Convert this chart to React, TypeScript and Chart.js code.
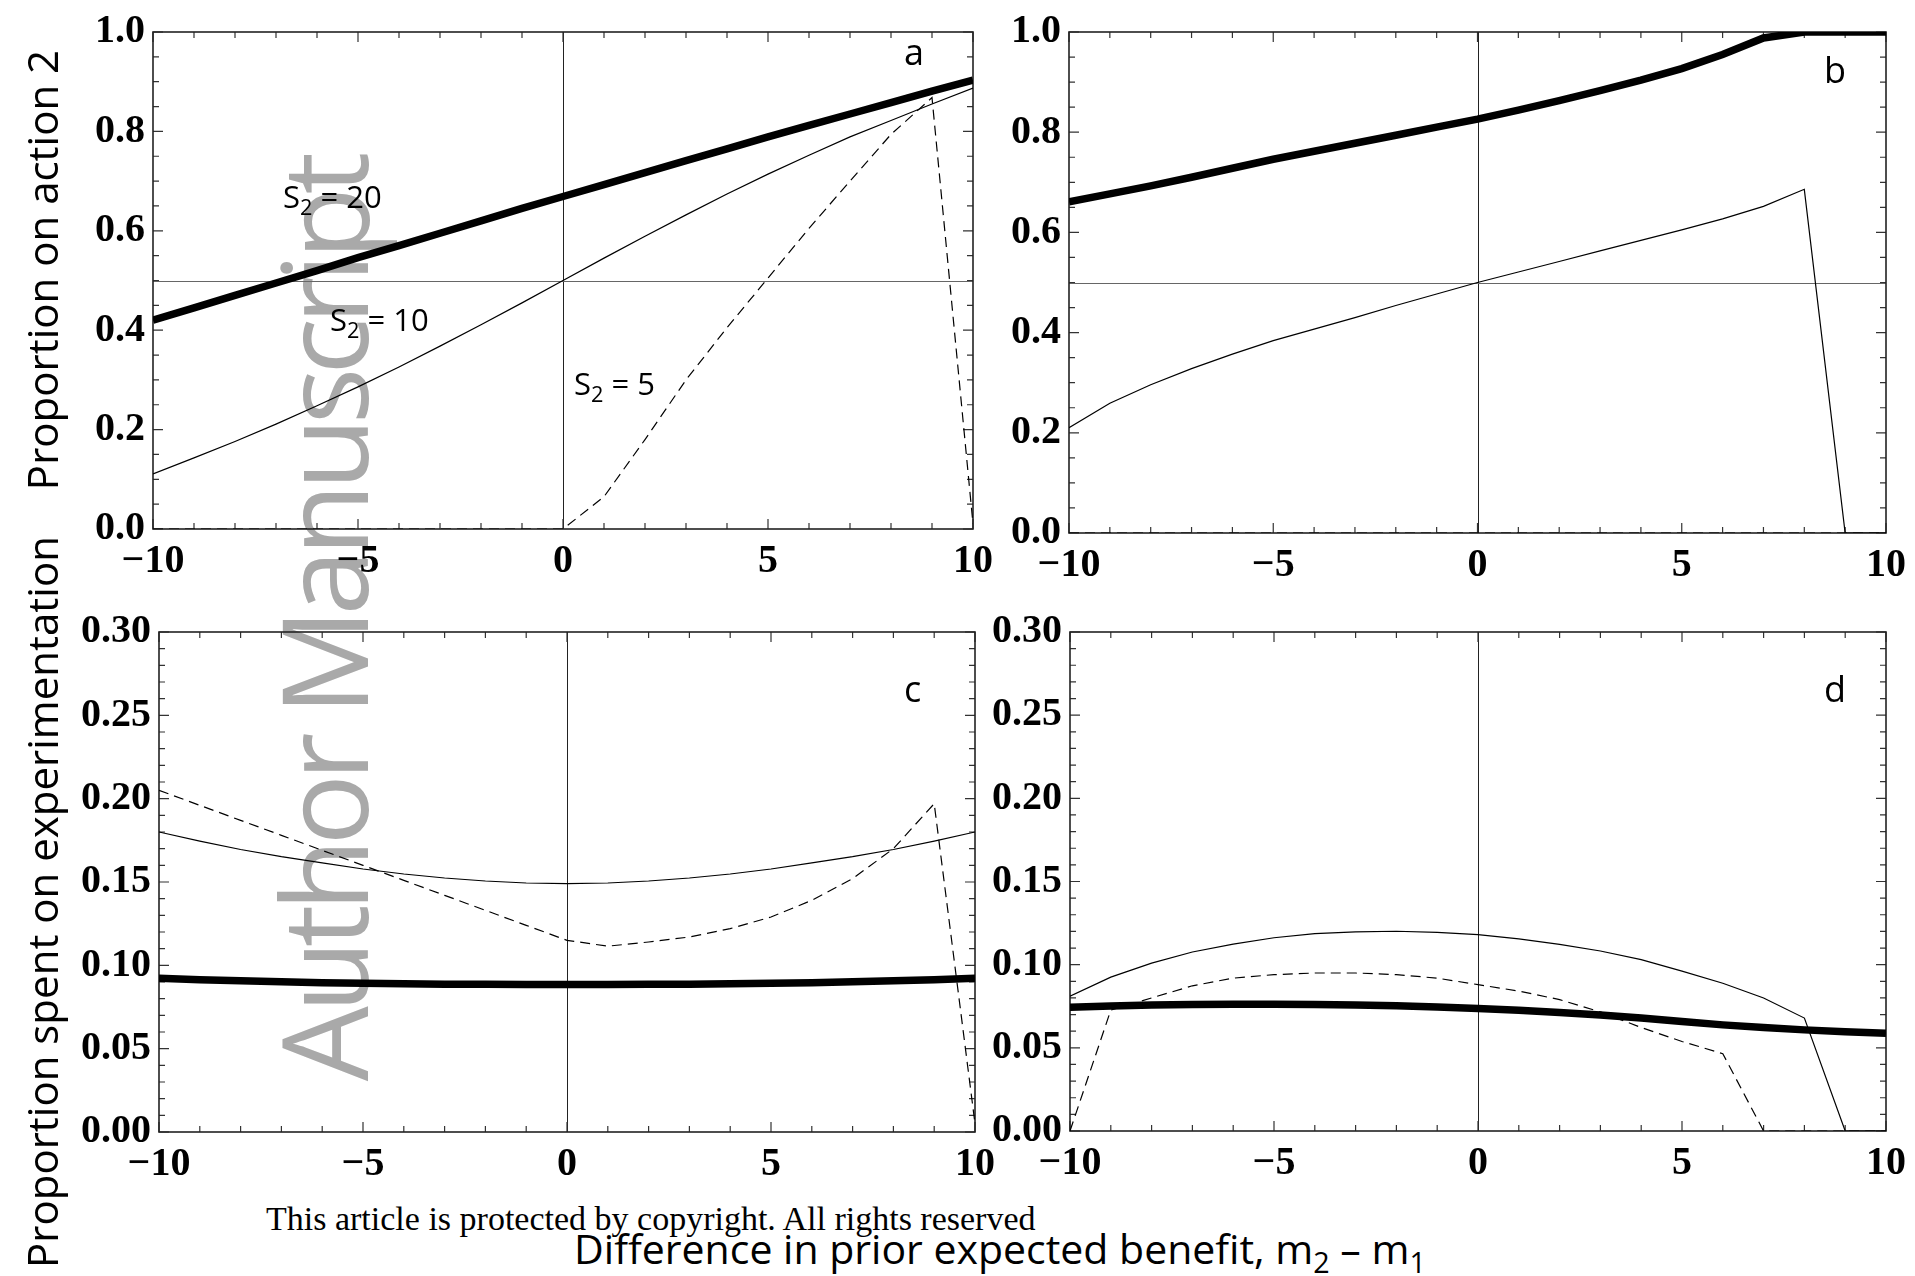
import React, { useEffect, useRef } from 'react';
import { Chart, registerables } from 'chart.js';

Chart.register(...registerables);

// ---------- data ----------
const xValues = [-10, -9, -8, -7, -6, -5, -4, -3, -2, -1, 0, 1, 2, 3, 4, 5, 6, 7, 8, 9, 10];

const xTicks = [-10, -5, 0, 5, 10];
const yTicksTop = [0, 0.2, 0.4, 0.6, 0.8, 1.0];
const yTicksBottom = [0, 0.05, 0.1, 0.15, 0.2, 0.25, 0.3];

// panel a: proportion on action 2
const aS20 = [0.420, 0.445, 0.470, 0.495, 0.520, 0.546, 0.570, 0.595, 0.620, 0.645, 0.669, 0.693, 0.717, 0.741, 0.765, 0.789, 0.812, 0.835, 0.858, 0.881, 0.903];
const aS10 = [0.111, 0.143, 0.176, 0.211, 0.248, 0.286, 0.326, 0.368, 0.411, 0.455, 0.500, 0.545, 0.589, 0.632, 0.674, 0.714, 0.752, 0.789, 0.822, 0.855, 0.887];
const aS5 = [0, 0, 0, 0, 0, 0, 0, 0, 0, 0, 0, 0.065, 0.18, 0.30, 0.405, 0.505, 0.605, 0.700, 0.794, 0.868, 0.01];

// panel b
const bS20 = [0.661, 0.677, 0.693, 0.710, 0.728, 0.746, 0.762, 0.778, 0.794, 0.810, 0.826, 0.844, 0.863, 0.883, 0.904, 0.927, 0.955, 0.988, 1.0, 1.0, 1.0];
const bS10 = [0.210, 0.259, 0.296, 0.328, 0.357, 0.384, 0.407, 0.430, 0.454, 0.477, 0.500, 0.521, 0.542, 0.563, 0.584, 0.605, 0.627, 0.652, 0.686, 0, 0];
const bS5 = [0, 0, 0, 0, 0, 0, 0, 0, 0, 0, 0, 0, 0, 0, 0, 0, 0, 0, 0, 0, 0];

// panel c: proportion spent on experimentation
const cS20 = [0.0922, 0.0914, 0.0907, 0.0901, 0.0896, 0.0892, 0.0889, 0.0887, 0.0886, 0.0885, 0.0885, 0.0885, 0.0886, 0.0887, 0.0889, 0.0892, 0.0896, 0.0901, 0.0907, 0.0914, 0.0922];
const cS10 = [0.180, 0.1745, 0.1695, 0.1652, 0.1615, 0.1578, 0.1548, 0.1524, 0.1506, 0.1494, 0.1490, 0.1494, 0.1506, 0.1524, 0.1548, 0.1578, 0.1615, 0.1652, 0.1695, 0.1745, 0.180];
const cS5 = [0.205, 0.196, 0.187, 0.178, 0.169, 0.160, 0.151, 0.142, 0.133, 0.124, 0.115, 0.1115, 0.114, 0.117, 0.122, 0.129, 0.139, 0.152, 0.170, 0.197, 0.005];

// panel d
const dS20 = [0.0744, 0.0752, 0.0757, 0.0760, 0.0762, 0.0762, 0.0761, 0.0758, 0.0753, 0.0746, 0.0737, 0.0726, 0.0713, 0.0698, 0.0679, 0.0658, 0.0638, 0.0622, 0.0608, 0.0597, 0.0587];
const dS10 = [0.0811, 0.0925, 0.1009, 0.1076, 0.1124, 0.1162, 0.1187, 0.1197, 0.1201, 0.1194, 0.1181, 0.1155, 0.1122, 0.1082, 0.1030, 0.0961, 0.0888, 0.0800, 0.0679, 0, 0];
const dS5 = [0, 0.0727, 0.080, 0.0873, 0.0919, 0.094, 0.095, 0.095, 0.094, 0.0919, 0.088, 0.0841, 0.079, 0.0716, 0.0622, 0.0538, 0.0465, 0, 0, 0, 0];

// ---------- frame / ticks plugin ----------
const framePlugin = {
  id: 'frame',
  beforeDatasetsDraw(chart: any, _args: any, opts: any) {
    const { ctx, chartArea: a, scales } = chart;
    const x = scales.x;
    const y = scales.y;
    ctx.save();
    const x0 = Math.round(x.getPixelForValue(0)) + 0.5;
    ctx.lineWidth = 1;
    ctx.strokeStyle = '#222';
    ctx.beginPath();
    ctx.moveTo(x0, a.top);
    ctx.lineTo(x0, a.bottom);
    ctx.stroke();
    if (opts.hLine != null) {
      const yh = Math.round(y.getPixelForValue(opts.hLine)) + 0.5;
      ctx.strokeStyle = '#666';
      ctx.beginPath();
      ctx.moveTo(a.left, yh);
      ctx.lineTo(a.right, yh);
      ctx.stroke();
    }
    ctx.strokeStyle = '#333';
    ctx.lineWidth = 1.2;
    const major = 10;
    const minor = 6;
    ctx.beginPath();
    for (let v = x.min; v <= x.max + 1e-9; v += opts.xMinor) {
      const p = x.getPixelForValue(v);
      const isMajor = Math.abs(v / opts.xMajor - Math.round(v / opts.xMajor)) < 1e-6;
      const len = isMajor ? major : minor;
      ctx.moveTo(p, a.bottom);
      ctx.lineTo(p, a.bottom - len);
      ctx.moveTo(p, a.top);
      ctx.lineTo(p, a.top + len);
    }
    for (let v = y.min; v <= y.max + 1e-9; v += opts.yMinor) {
      const p = y.getPixelForValue(v);
      const isMajor = Math.abs(v / opts.yMajor - Math.round(v / opts.yMajor)) < 1e-6;
      const len = isMajor ? major : minor;
      ctx.moveTo(a.left, p);
      ctx.lineTo(a.left + len, p);
      ctx.moveTo(a.right, p);
      ctx.lineTo(a.right - len, p);
    }
    ctx.stroke();
    ctx.strokeStyle = '#222';
    ctx.lineWidth = 1.6;
    ctx.strokeRect(a.left, a.top, a.right - a.left, a.bottom - a.top);
    ctx.restore();
  },
};

type PanelProps = {
  left: number;
  top: number;
  width: number;
  height: number;
  area: { left: number; top: number; right: number; bottom: number };
  s20: number[];
  s10: number[];
  s5: number[];
  yMax: number;
  yTicks: number[];
  yMinor: number;
  yMajor: number;
  decimals: number;
  hLine: number | null;
};

const minus = (v: number) => (v < 0 ? '\u2212' + Math.abs(v) : String(v));

function Panel(p: PanelProps) {
  const ref = useRef<HTMLCanvasElement>(null);
  useEffect(() => {
    const yAxisWidth = p.area.left - p.left;
    const padTop = p.area.top - p.top;
    const padRight = p.left + p.width - p.area.right;
    const xAxisHeight = p.top + p.height - p.area.bottom;
    const mk = (arr: number[]) => xValues.map((x, i) => ({ x, y: arr[i] }));
    const tickFont = { family: '"Liberation Serif", "Times New Roman", serif', size: 40, weight: 'bold' };
    const chart = new Chart(ref.current!, {
      type: 'line',
      data: {
        datasets: [
          { data: mk(p.s20), borderColor: '#000', borderWidth: 7.5, pointRadius: 0, tension: 0, fill: false },
          { data: mk(p.s10), borderColor: '#000', borderWidth: 1.2, pointRadius: 0, tension: 0, fill: false },
          { data: mk(p.s5), borderColor: '#000', borderWidth: 1.2, borderDash: [10, 6], pointRadius: 0, tension: 0, fill: false },
        ],
      },
      options: {
        animation: false,
        responsive: false,
        maintainAspectRatio: false,
        devicePixelRatio: 1,
        events: [],
        layout: { padding: { left: 0, top: padTop, right: padRight, bottom: 0 } },
        plugins: {
          legend: { display: false },
          tooltip: { enabled: false },
          frame: { hLine: p.hLine, xMinor: 1, xMajor: 5, yMinor: p.yMinor, yMajor: p.yMajor },
        } as any,
        scales: {
          x: {
            type: 'linear',
            min: -10,
            max: 10,
            grid: { display: false, drawTicks: false, tickLength: 0 },
            border: { display: false },
            afterBuildTicks: (s: any) => {
              s.ticks = xTicks.map((v) => ({ value: v }));
            },
            afterFit: (s: any) => {
              s.height = xAxisHeight;
            },
            ticks: {
              color: '#000',
              font: tickFont,
              padding: 9,
              maxRotation: 0,
              autoSkip: false,
              callback: (v: any) => minus(Number(v)),
            },
          },
          y: {
            type: 'linear',
            min: 0,
            max: p.yMax,
            grid: { display: false, drawTicks: false, tickLength: 0 },
            border: { display: false },
            afterBuildTicks: (s: any) => {
              s.ticks = p.yTicks.map((v) => ({ value: v }));
            },
            afterFit: (s: any) => {
              s.width = yAxisWidth;
            },
            ticks: {
              color: '#000',
              font: tickFont,
              padding: 8,
              autoSkip: false,
              callback: (v: any) => Number(v).toFixed(p.decimals),
            },
          },
        },
      },
      plugins: [framePlugin],
    } as any);
    return () => chart.destroy();
  }, []);
  return (
    <canvas
      ref={ref}
      width={p.width}
      height={p.height}
      style={{ position: 'absolute', left: p.left, top: p.top, width: p.width, height: p.height }}
    />
  );
}

const SANS = '"Open Sans", "Noto Sans", sans-serif';
const SERIF = '"Liberation Serif", "Times New Roman", serif';

function TextAt(props: {
  x: number;
  baseline: number;
  size: number;
  family?: string;
  asc?: number;
  center?: boolean;
  scaleX?: number;
  children: React.ReactNode;
}) {
  const asc = props.asc ?? 0.888;
  const top = props.baseline - asc * props.size;
  const tf: string[] = [];
  if (props.center) tf.push('translateX(-50%)');
  if (props.scaleX) tf.push(`scaleX(${props.scaleX})`);
  return (
    <div
      style={{
        position: 'absolute',
        left: props.x,
        top,
        fontFamily: props.family ?? SANS,
        fontSize: props.size,
        lineHeight: `${props.size}px`,
        whiteSpace: 'nowrap',
        color: '#000',
        transform: tf.join(' ') || undefined,
        transformOrigin: props.center ? 'center' : 'left',
      }}
    >
      {props.children}
    </div>
  );
}

function Rotated(props: { cx: number; cy: number; size: number; color?: string; spacing?: number; children: React.ReactNode }) {
  return (
    <div
      style={{
        position: 'absolute',
        left: props.cx,
        top: props.cy,
        fontFamily: SANS,
        fontSize: props.size,
        lineHeight: `${props.size}px`,
        whiteSpace: 'nowrap',
        color: props.color ?? '#000',
        letterSpacing: props.spacing ? `${props.spacing}px` : undefined,
        transform: 'translate(-50%, -50%) rotate(-90deg)',
      }}
    >
      {props.children}
    </div>
  );
}

const subStyle: React.CSSProperties = { fontSize: '70%', verticalAlign: '-0.3em', lineHeight: 0 };

export default function App() {
  return (
    <div style={{ position: 'absolute', left: 0, top: 0, width: 1915, height: 1276, background: '#fff', overflow: 'hidden' }}>
      <Rotated cx={322} cy={620} size={119} color="#a9a9a9" spacing={-7}>
        Author Manuscript
      </Rotated>
      <Panel
        left={0}
        top={0}
        width={1010}
        height={600}
        area={{ left: 153, top: 24, right: 973, bottom: 529 }}
        s20={aS20}
        s10={aS10}
        s5={aS5}
        yMax={1}
        yTicks={yTicksTop}
        yMinor={0.05}
        yMajor={0.2}
        decimals={1}
        hLine={0.5}
      />
      <Panel
        left={980}
        top={0}
        width={935}
        height={600}
        area={{ left: 1069, top: 30, right: 1888, bottom: 533 }}
        s20={bS20}
        s10={bS10}
        s5={bS5}
        yMax={1}
        yTicks={yTicksTop}
        yMinor={0.05}
        yMajor={0.2}
        decimals={1}
        hLine={0.5}
      />
      <Panel
        left={0}
        top={600}
        width={1010}
        height={600}
        area={{ left: 159, top: 628, right: 975, bottom: 1132 }}
        s20={cS20}
        s10={cS10}
        s5={cS5}
        yMax={0.3}
        yTicks={yTicksBottom}
        yMinor={0.01}
        yMajor={0.05}
        decimals={2}
        hLine={null}
      />
      <Panel
        left={980}
        top={600}
        width={935}
        height={600}
        area={{ left: 1070, top: 628, right: 1888, bottom: 1131 }}
        s20={dS20}
        s10={dS10}
        s5={dS5}
        yMax={0.3}
        yTicks={yTicksBottom}
        yMinor={0.01}
        yMajor={0.05}
        decimals={2}
        hLine={null}
      />

      <TextAt x={904} baseline={66} size={36}>a</TextAt>
      <TextAt x={1824} baseline={84} size={36}>b</TextAt>
      <TextAt x={904} baseline={703} size={36}>c</TextAt>
      <TextAt x={1824} baseline={703} size={36}>d</TextAt>

      <TextAt x={283} baseline={209} size={31}>
        S<span style={subStyle}>2</span> = 20
      </TextAt>
      <TextAt x={330} baseline={332} size={31}>
        S<span style={subStyle}>2</span> = 10
      </TextAt>
      <TextAt x={574} baseline={396} size={31}>
        S<span style={subStyle}>2</span> = 5
      </TextAt>

      <Rotated cx={42} cy={270} size={42}>Proportion on action 2</Rotated>
      <Rotated cx={42} cy={902} size={42}>Proportion spent on experimentation</Rotated>

      <TextAt x={266} baseline={1230} size={34} family={SERIF} asc={0.8375}>
        This article is protected by copyright. All rights reserved
      </TextAt>
      <TextAt x={1000} baseline={1264} size={41} center>
        Difference in prior expected benefit, m<span style={subStyle}>2</span> – m<span style={subStyle}>1</span>
      </TextAt>
    </div>
  );
}
